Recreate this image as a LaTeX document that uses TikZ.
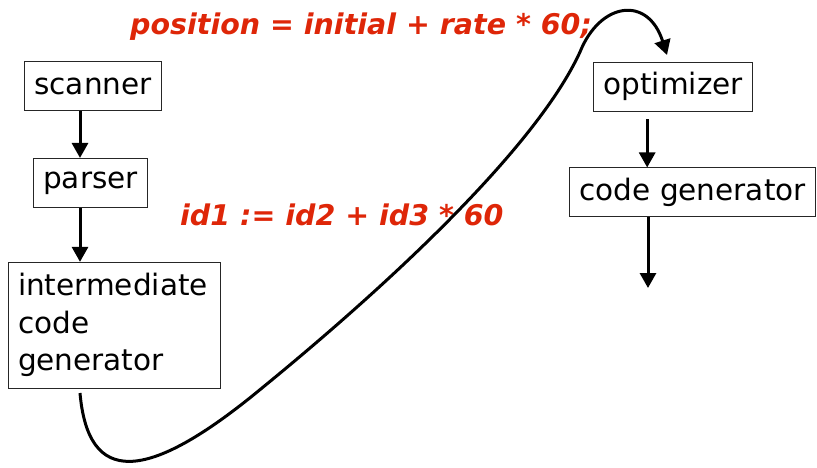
\documentclass[tikz,border=0pt]{standalone}
\usepackage{fontspec}
\setmainfont{DejaVu Sans}
\usetikzlibrary{arrows.meta, positioning}
\definecolor{codered}{RGB}{222,38,8}
\tikzset{
  stage/.style   = {rectangle, draw=black!85, line width=0.9pt, fill=white,
                    inner xsep=10pt, minimum height=49pt, align=center,
                    font=\fontsize{29.5}{37.5}\selectfont},
  flow/.style    = {-{Triangle[length=15pt,width=16pt]}, line width=3pt},
  source/.style  = {text=codered, inner sep=0pt,
                    font=\fontsize{28.5}{30}\selectfont\bfseries\itshape},
}

\begin{document}
\begin{tikzpicture}[x=1pt, y=-1pt]
  \useasboundingbox (0,0) rectangle (817,467);

  % front end
  \node[stage] (scanner) at (93,86) {scanner};
  \node[stage, below=47pt of scanner, xshift=-2.5pt] (parser) {parser};
  \node[stage, below=54pt of parser, xshift=23.5pt, minimum width=212pt,
        minimum height=126pt, text width=192pt, align=left] (icg)
        {intermediate\\code\\generator};

  % back end
  \node[stage, right=431pt of scanner, yshift=-0.5pt] (opt) {optimizer};
  \node[stage, below=56pt of opt, xshift=19.5pt] (codegen) {code generator};
  \coordinate (done) at (648,288);

  % source text and its intermediate form
  \node[source, anchor=base west] (stmt) at (130,34) {position = initial + rate * 60;};
  \node[source, anchor=base west] (ir) at (180,225) {id1 := id2 + id3 * 60};

  \draw[flow] ([xshift=-13pt]scanner.south) -- ([xshift=-13pt]scanner.south |- parser.north);
  \draw[flow] ([xshift=-10.5pt]parser.south) -- ([xshift=-10.5pt]parser.south |- icg.north);
  \draw[flow] ([xshift=-26pt,yshift=-8pt]opt.south) -- ([xshift=-26pt]opt.south |- codegen.north);
  \draw[flow] (codegen.south -| done) -- (done);

  % the long hop from the intermediate code to the optimizer
  \coordinate (hopstart) at (80,393);
  \coordinate (hoptip) at (667,55);
  \draw[flow] (hopstart) .. controls (88,485) and (145,485) .. (262,388)
              .. controls (382,290) and (535,150) .. (580,52)
              .. controls (600,2) and (648,-5) .. (hoptip);
\end{tikzpicture}
\end{document}
